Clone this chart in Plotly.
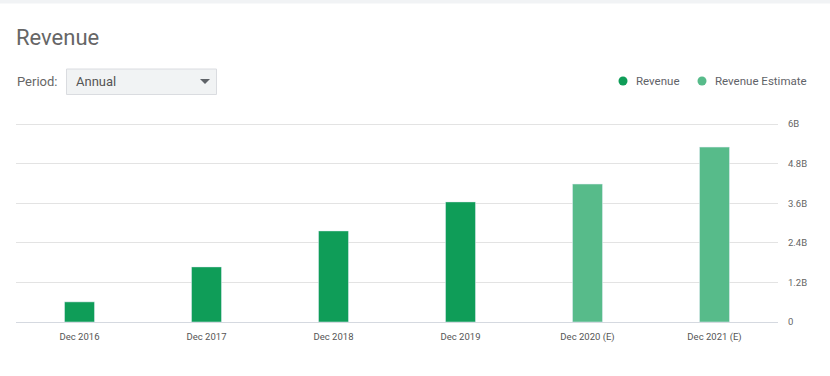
import plotly.graph_objects as go

categories = ["Dec 2016", "Dec 2017", "Dec 2018", "Dec 2019", "Dec 2020 (E)", "Dec 2021 (E)"]
revenue = [0.61e9, 1.67e9, 2.76e9, 3.64e9, None, None]
revenue_estimate = [None, None, None, None, 4.18e9, 5.30e9]
y_tickvals = [0, 1.2e9, 2.4e9, 3.6e9, 4.8e9, 6e9]
y_ticktext = ["0", "1.2B", "2.4B", "3.6B", "4.8B", "6B"]

C_REV = "#0f9d58"
C_EST = "#57bb8a"
FONT = "Roboto"

fig = go.Figure()
fig.add_trace(go.Bar(x=categories, y=revenue, name="Revenue", marker_color=C_REV,
                     width=0.236, showlegend=False, hoverinfo="skip"))
fig.add_trace(go.Bar(x=categories, y=revenue_estimate, name="Revenue Estimate",
                     marker_color=C_EST, width=0.236, showlegend=False, hoverinfo="skip"))

W, H = 830, 376
L, R, T, B = 16, 52, 118, 54
PW, PH = W - L - R, H - T - B
TOP_GAP = 124 - T
def px(x): return (x - L) / PW
def py(y): return (H - B - y) / PH

shapes = [
    # top band
    dict(type="rect", xref="paper", yref="paper", x0=px(-10), x1=px(840), y0=py(-2), y1=py(3.5),
         fillcolor="#f1f3f5", line_width=0, layer="below"),
    # dropdown
    dict(type="rect", xref="paper", yref="paper", x0=px(66.5), x1=px(216.5), y0=py(69), y1=py(94.5),
         fillcolor="#f1f3f4", line=dict(color="#dadce0", width=1)),
    dict(type="path", xref="paper", yref="paper",
         path=f"M {px(200)},{py(79)} L {px(210)},{py(79)} L {px(205)},{py(84)} Z",
         fillcolor="#5f6368", line_width=0),
    # legend dots
    dict(type="circle", xref="paper", yref="paper", x0=px(618.5), x1=px(627.5), y0=py(76.5), y1=py(85.5),
         fillcolor=C_REV, line_width=0),
    dict(type="circle", xref="paper", yref="paper", x0=px(697.5), x1=px(706.5), y0=py(76.5), y1=py(85.5),
         fillcolor=C_EST, line_width=0),
]

annotations = [
    dict(text="Revenue", xref="paper", yref="paper", x=px(14), y=py(37), xanchor="left", yanchor="middle",
         showarrow=False, font=dict(family=FONT, size=22, color="#666666")),
    dict(text="Period:", xref="paper", yref="paper", x=px(15), y=py(81.5), xanchor="left", yanchor="middle",
         showarrow=False, font=dict(family=FONT, size=13, color="#666666")),
    dict(text="Annual", xref="paper", yref="paper", x=px(74), y=py(81.5), xanchor="left", yanchor="middle",
         showarrow=False, font=dict(family=FONT, size=13, color="#555555")),
    dict(text="Revenue", xref="paper", yref="paper", x=px(634), y=py(81), xanchor="left", yanchor="middle",
         showarrow=False, font=dict(family=FONT, size=11.5, color="#5f6368")),
    dict(text="Revenue Estimate", xref="paper", yref="paper", x=px(713), y=py(81), xanchor="left", yanchor="middle",
         showarrow=False, font=dict(family=FONT, size=11.5, color="#5f6368")),
]

fig.update_layout(
    width=W, height=H,
    margin=dict(l=L, r=R, t=T, b=B, pad=0),
    paper_bgcolor="white", plot_bgcolor="white",
    barmode="overlay",
    bargap=0,
    hovermode=False,
    font=dict(family=FONT, size=10, color="#5f6368"),
    shapes=shapes, annotations=annotations,
    xaxis=dict(showgrid=False, showline=False, zeroline=False, ticks="",
               ticklabelstandoff=7,
               tickfont=dict(family=FONT, size=9.5, color="#555555"), fixedrange=True),
    yaxis=dict(side="right", range=[0, 6e9 * PH / (PH - TOP_GAP)], tickvals=y_tickvals, ticktext=y_ticktext,
               showgrid=True, gridcolor="#e3e3e3", gridwidth=1,
               zeroline=True, zerolinecolor="#d5d9e0", zerolinewidth=1,
               showline=False, ticks="", ticklabelstandoff=9, fixedrange=True,
               tickfont=dict(family=FONT, size=9.5, color="#666666")),
)

fig.write_html("out.html", config={"displayModeBar": False, "staticPlot": True},
               post_script="document.body.style.margin='0';document.body.style.overflow='hidden';")
